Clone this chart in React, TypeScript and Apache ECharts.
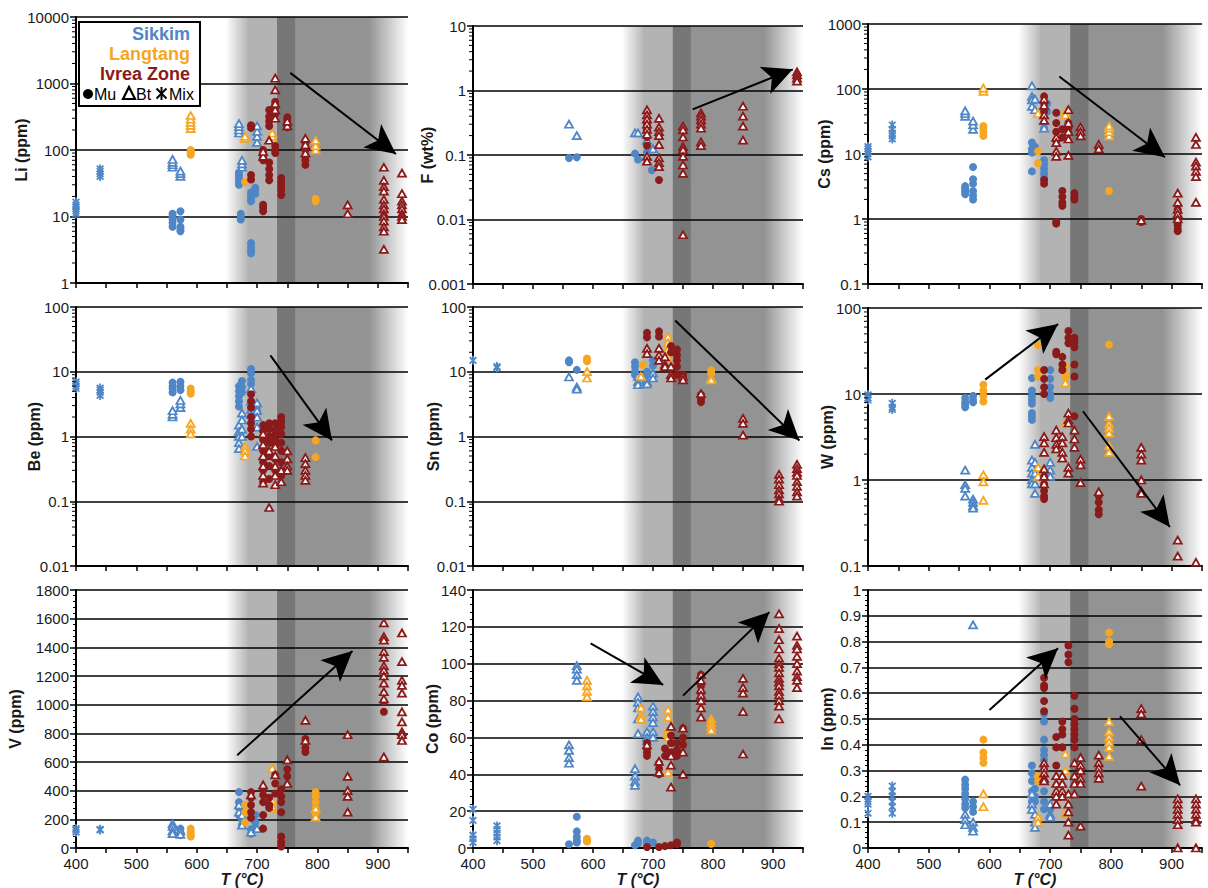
import React, { useEffect, useRef } from 'react';
import * as echarts from 'echarts';

const SIK = '#4f86c6';
const LAN = '#f5a623';
const IVR = '#8b1a1a';

// ---------- Li (ppm) ----------
const liSikMix = [[400,11],[400,12],[400,13],[400,14],[400,15],[400,16.5],[440,40],[440,44],[440,48],[440,52]];
const liSikMu = [[560,7],[560,8],[560,9],[560,10],[560,11],[573,6],[573,6.5],[573,7],[573,9],[573,12],[670,30],[670,34],[670,38],[670,42],[670,46],[673,9],[673,10],[673,11],[690,2.8],[690,3.1],[690,3.5],[690,4],[690,17],[690,19],[690,21],[690,23],[697,22],[697,25],[697,27]];
const liSikBt = [[560,55],[560,60],[560,65],[560,72],[573,40],[573,44],[573,48],[670,180],[670,200],[670,225],[670,250],[675,55],[675,62],[675,70],[700,130],[700,160],[700,190],[700,230]];
const liLanMu = [[590,85],[590,90],[590,95],[590,100],[680,33],[797,17],[797,18.5]];
const liLanBt = [[590,210],[590,235],[590,260],[590,290],[590,330],[680,150],[680,160],[725,140],[725,160],[725,180],[797,100],[797,115],[797,140]];
const liIvrMu = [[690,215],[690,235],[690,36],[690,42],[710,70],[710,80],[710,90],[710,100],[710,12],[710,13.5],[710,15],[720,35],[720,42],[720,52],[720,65],[720,230],[720,270],[720,320],[720,400],[730,350],[730,420],[730,480],[730,530],[730,90],[730,100],[730,115],[740,21],[740,25],[740,29],[740,33],[740,38],[750,220],[750,250],[750,280],[750,310],[780,60],[780,70],[780,82],[780,100],[780,125]];
const liIvrBt = [[720,140],[730,1200],[730,800],[730,300],[730,400],[730,500],[710,80],[710,95],[750,230],[750,270],[780,90],[780,120],[780,150],[850,15],[850,11],[910,55],[910,35],[910,28],[910,24],[910,18],[910,15],[910,13],[910,11],[910,10],[910,8.5],[910,7],[910,6],[910,3.2],[940,45],[940,22],[940,17],[940,15],[940,13],[940,11],[940,10],[940,9]];

// ---------- F (wt%) ----------
const fSikMix: number[][] = [];
const fSikMu = [[560,0.09],[573,0.092],[670,0.105],[675,0.085],[690,0.11],[698,0.058]];
const fSikBt = [[560,0.3],[573,0.2],[670,0.22],[675,0.22],[690,0.17],[700,0.125]];
const fLanMu: number[][] = [];
const fLanBt: number[][] = [];
const fIvrMu = [[690,0.19],[690,0.14],[690,0.3],[690,0.25],[710,0.041],[710,0.2],[750,0.12],[750,0.11],[780,0.35],[780,0.3],[940,1.5],[940,1.6],[940,1.7]];
const fIvrBt = [[690,0.5],[690,0.42],[690,0.36],[690,0.3],[690,0.25],[690,0.21],[690,0.095],[690,0.08],[710,0.37],[710,0.27],[710,0.23],[710,0.2],[710,0.145],[710,0.09],[710,0.076],[710,0.066],[750,0.28],[750,0.245],[750,0.19],[750,0.135],[750,0.12],[750,0.095],[750,0.07],[750,0.052],[750,0.0058],[780,0.45],[780,0.4],[780,0.35],[780,0.3],[780,0.26],[780,0.16],[780,0.14],[850,0.57],[850,0.4],[850,0.28],[850,0.17],[940,1.95],[940,1.75],[940,1.55],[940,1.4]];

// ---------- Cs (ppm) ----------
const csSikMix = [[400,9],[400,10],[400,11],[400,12],[400,13],[440,17],[440,19],[440,21],[440,24],[440,28]];
const csSikMu = [[560,2.4],[560,2.6],[560,2.8],[560,3],[560,3.2],[573,2],[573,2.3],[573,2.7],[573,3.5],[573,4.1],[573,6.3],[670,15],[670,12],[670,10.5],[670,5.4],[675,13],[675,11],[690,8],[690,7],[690,6],[690,5],[690,4.3],[690,25],[690,50],[695,45],[695,60]];
const csSikBt = [[560,38],[560,42],[560,46],[573,24],[573,28],[573,32],[670,112],[670,77],[670,68],[670,54],[675,48],[675,70],[690,25],[690,33]];
const csLanMu = [[590,19],[590,22],[590,25],[590,27],[680,11],[680,7.2],[797,2.7]];
const csLanBt = [[590,92],[590,103],[680,42],[725,45],[725,40],[797,19],[797,22],[797,25],[797,27]];
const csIvrMu = [[690,77],[690,60],[690,45],[690,4],[690,3.5],[710,43],[710,30],[710,22],[710,16],[710,0.9],[710,0.85],[720,24],[720,18],[720,2.7],[720,2.2],[720,1.8],[720,1.6],[730,30],[730,25],[730,21],[740,2.5],[740,2.2],[740,2],[780,12],[850,1],[850,0.9],[910,1.4],[910,1.1],[910,0.9],[910,0.8],[910,0.7],[910,0.65]];
const csIvrBt = [[690,70],[690,56],[690,40],[690,33],[710,18],[710,15],[710,11],[710,9.2],[730,48],[730,30],[730,22],[730,17],[730,9.5],[750,26],[750,22],[750,19],[780,14],[780,12],[850,0.95],[910,2.5],[910,1.8],[910,1.4],[910,1.2],[910,1],[940,18],[940,14],[940,7.5],[940,6.5],[940,5.4],[940,4.5],[940,1.8]];

// ---------- Be (ppm) ----------
const beSikMix = [[400,5.5],[400,6],[400,6.5],[400,7],[440,4.3],[440,4.8],[440,5.2],[440,5.6]];
const beSikMu = [[560,4.8],[560,5.5],[560,6],[560,6.8],[573,5.2],[573,6],[573,7],[670,2.9],[670,3.5],[670,4.2],[670,5],[670,6],[675,4.8],[675,5.8],[675,7.2],[690,6.5],[690,7.5],[690,9.5],[690,11],[700,3],[700,2.5]];
const beSikBt = [[560,2],[560,2.2],[560,2.5],[573,2.8],[573,3.2],[573,3.6],[670,1.5],[670,1.2],[670,1],[670,0.8],[670,0.65],[675,2.3],[675,1.8],[675,1.3],[675,1],[690,5.5],[690,3.5],[690,2.6],[690,2.2],[700,3.3],[700,2.5],[700,2],[700,1.4],[700,0.7]];
const beLanMu = [[590,5.5],[590,5],[590,4.6],[797,0.87],[797,0.48]];
const beLanBt = [[590,1.6],[590,1.3],[590,1.1],[680,0.7],[680,0.6],[680,0.5]];
const beIvrMu = [[690,4.5],[690,3.5],[690,2.8],[690,2],[690,1.6],[690,1.3],[690,1],[710,1.5],[710,1.2],[710,0.9],[710,0.6],[710,0.4],[710,0.3],[710,0.2],[720,1.6],[720,1.3],[720,1],[720,0.8],[720,0.5],[720,0.35],[720,0.22],[730,1.6],[730,1.3],[730,1.1],[730,0.9],[730,0.7],[730,0.45],[730,0.3],[740,2],[740,1.7],[740,1.4],[740,1.1],[740,0.8],[740,0.6],[740,0.4],[740,0.25]];
const beIvrBt = [[710,1.1],[710,0.75],[710,0.5],[710,0.35],[710,0.25],[710,0.19],[720,0.08],[720,0.6],[730,0.7],[730,0.5],[730,0.35],[730,0.25],[730,0.18],[740,0.3],[740,0.2],[750,0.6],[750,0.45],[750,0.35],[750,0.3],[780,0.47],[780,0.38],[780,0.3],[780,0.25],[780,0.21]];

// ---------- Sn (ppm) ----------
const snSikMix = [[400,15],[440,12],[440,11.5]];
const snSikMu = [[560,15],[560,14],[573,10.7],[670,14],[670,12],[670,10],[670,9],[690,10],[690,9],[700,15],[700,12.5]];
const snSikBt = [[560,8.3],[573,5.8],[573,5.4],[675,8.5],[675,7],[675,6.3],[685,6.5],[690,7],[690,6.5],[700,9.5],[700,8]];
const snLanMu = [[590,16],[590,14.5],[683,12.8],[797,10.5],[797,9.5]];
const snLanBt = [[590,10],[590,8],[680,8.5],[725,35],[725,28],[725,22],[725,17],[797,8],[797,7.5]];
const snIvrMu = [[690,40],[690,34],[710,42],[710,35],[730,25],[730,20],[740,22],[740,18],[740,15],[740,12],[740,9],[750,9],[750,8],[780,4.4],[780,3.8],[780,3.4]];
const snIvrBt = [[690,23],[690,19],[710,23],[710,18],[710,15],[720,17],[720,13],[720,12],[730,12],[730,9],[730,8],[750,8.5],[750,7.5],[780,4.6],[850,1.9],[850,1.6],[850,1.05],[910,0.26],[910,0.22],[910,0.18],[910,0.15],[910,0.13],[910,0.11],[910,0.1],[940,0.37],[940,0.32],[940,0.28],[940,0.25],[940,0.2],[940,0.17],[940,0.14],[940,0.12]];

// ---------- W (ppm) ----------
const wSikMix = [[400,9.8],[400,9],[400,8.5],[440,7.8],[440,7],[440,6.6]];
const wSikMu = [[560,9],[560,8],[560,7.5],[560,7],[573,9.5],[573,8.5],[573,8],[670,15.3],[670,11],[670,9.5],[670,8.5],[670,7.7],[670,6],[670,5.5],[670,5],[700,19],[700,15],[700,12],[700,10],[700,9]];
const wSikBt = [[560,1.3],[560,0.88],[560,0.8],[560,0.65],[573,0.6],[573,0.55],[573,0.5],[573,0.47],[670,1.7],[670,1.4],[670,1.2],[670,1],[670,0.9],[675,2.6],[675,1.6],[675,1.2],[675,0.9],[675,0.7],[700,1.6],[700,1.3],[700,1.1]];
const wLanMu = [[590,12.8],[590,11],[590,9.5],[590,8.2],[680,37],[680,19],[680,16],[725,21],[725,17],[725,16],[797,37.5]];
const wLanBt = [[590,1.15],[590,0.95],[590,0.58],[680,1.4],[680,1.1],[725,13.5],[725,4.6],[797,5.5],[797,4.5],[797,4],[797,3.5],[797,2.5],[797,2.1]];
const wIvrMu = [[690,19],[690,15],[690,12],[690,10],[690,1.1],[690,0.9],[690,0.75],[690,0.65],[690,0.6],[710,31],[710,29],[720,27],[720,22],[720,19],[730,54],[730,45],[730,39],[740,45],[740,40],[740,35],[740,22],[740,16],[740,5.5],[780,0.65],[780,0.55],[780,0.45],[780,0.4]];
const wIvrBt = [[690,3.2],[690,2.7],[690,2.1],[690,1.35],[690,1.1],[690,0.9],[710,3.8],[710,3.1],[710,2.6],[710,2.3],[720,3.2],[720,2.7],[720,2.1],[720,1.8],[730,6],[730,5],[730,4.6],[730,1.4],[730,1.2],[740,3.8],[740,3],[740,2.4],[750,1.75],[750,1.5],[750,0.93],[780,0.73],[850,2.4],[850,2],[850,1.7],[850,1],[850,0.74],[850,0.7],[910,0.2],[910,0.13],[940,0.11]];

// ---------- V (ppm) ----------
const vSikMix = [[400,110],[400,125],[400,135],[440,125],[440,130]];
const vSikMu = [[573,135],[573,110],[573,90],[670,390],[670,320],[670,280],[670,230],[675,270],[675,200],[675,160],[690,130],[690,100],[697,230],[697,180],[697,140]];
const vSikBt = [[560,170],[560,150],[560,120],[560,100],[573,120],[573,95],[670,300],[670,250],[675,230],[675,160],[690,110],[700,135]];
const vLanMu = [[590,135],[590,110],[590,90],[590,80],[680,300],[680,250],[680,180],[725,270],[797,390],[797,360],[797,320],[797,280],[797,240]];
const vLanBt = [[725,555],[725,330],[725,290],[797,215],[797,275]];
const vIvrMu = [[690,390],[690,350],[690,300],[690,250],[690,210],[710,410],[710,370],[710,320],[710,230],[710,135],[720,350],[720,300],[720,280],[730,510],[730,450],[730,380],[740,410],[740,360],[740,320],[740,250],[740,80],[740,40],[740,10],[750,550],[750,500],[780,760],[780,700],[780,670],[910,1020],[910,950]];
const vIvrBt = [[690,370],[710,440],[730,510],[750,615],[750,450],[780,890],[780,750],[850,790],[850,500],[850,400],[850,360],[850,250],[910,1570],[910,1475],[910,1450],[910,1370],[910,1330],[910,1270],[910,1240],[910,1200],[910,1150],[910,1090],[910,1040],[910,635],[940,1500],[940,1300],[940,1170],[940,1135],[940,1080],[940,950],[940,880],[940,810],[940,790],[940,750]];

// ---------- Co (ppm) ----------
const coSikMix = [[400,21],[400,15],[400,7],[400,5],[400,3],[440,12],[440,10],[440,8],[440,6],[440,4]];
const coSikMu = [[560,2],[573,17],[573,9],[573,6],[573,4],[573,3],[670,1.5],[675,4],[675,2.5],[690,4],[690,3],[700,3]];
const coSikBt = [[560,56],[560,53],[560,49],[560,46],[573,99],[573,97],[573,94],[573,91],[670,43],[670,39],[670,36],[670,34],[675,82],[675,79],[675,76],[675,70],[675,62],[690,63],[690,60],[690,58],[700,77],[700,74],[700,71],[700,68],[700,63],[700,60]];
const coLanMu = [[590,5],[590,4],[590,3.5],[797,2.3]];
const coLanBt = [[590,91],[590,88],[590,85],[590,82],[680,76],[680,72],[680,70],[725,75],[725,71],[725,64],[725,62],[725,60],[725,41],[797,70],[797,68],[797,66],[797,64]];
const coIvrMu = [[690,57],[690,54],[690,52],[690,50],[690,0.5],[710,46],[710,43],[710,40],[710,0.5],[720,54],[720,50],[720,1],[730,61],[730,57],[730,52],[730,1.5],[740,57],[740,53],[740,50],[740,3],[740,2],[750,65],[750,60],[750,56],[780,94],[780,88],[780,84],[780,80]];
const coIvrBt = [[690,56],[710,47],[710,41],[730,66],[730,50],[730,45],[730,33],[750,65],[750,52],[750,40],[780,94],[780,91],[780,86],[780,83],[780,80],[780,76],[780,71],[850,92],[850,87],[850,84],[850,74],[850,51],[910,127],[910,119],[910,113],[910,108],[910,103],[910,100],[910,98],[910,95],[910,92],[910,90],[910,88],[910,85],[910,83],[910,80],[910,77],[910,70],[940,115],[940,110],[940,108],[940,104],[940,100],[940,96],[940,93],[940,91],[940,87]];

// ---------- In (ppm) ----------
const inSikMix = [[400,0.2],[400,0.18],[400,0.17],[400,0.135],[440,0.24],[440,0.22],[440,0.2],[440,0.18],[440,0.16],[440,0.135]];
const inSikMu = [[560,0.265],[560,0.245],[560,0.23],[560,0.21],[560,0.19],[560,0.17],[560,0.155],[573,0.18],[573,0.16],[573,0.14],[670,0.32],[670,0.29],[670,0.26],[670,0.22],[670,0.18],[675,0.23],[675,0.2],[675,0.18],[690,0.52],[690,0.49],[690,0.42],[690,0.38],[690,0.36],[690,0.34],[690,0.31],[690,0.28],[690,0.26],[690,0.22],[690,0.18],[690,0.15],[700,0.15],[700,0.12]];
const inSikBt = [[560,0.13],[560,0.11],[560,0.09],[573,0.865],[573,0.1],[573,0.08],[573,0.065],[670,0.21],[670,0.17],[670,0.15],[675,0.13],[675,0.1],[675,0.08],[700,0.17],[700,0.13],[700,0.12]];
const inLanMu = [[590,0.42],[590,0.37],[590,0.35],[590,0.33],[680,0.28],[680,0.26],[797,0.835],[797,0.8],[797,0.79]];
const inLanBt = [[590,0.21],[590,0.16],[680,0.12],[680,0.1],[725,0.365],[725,0.3],[725,0.135],[797,0.49],[797,0.45],[797,0.43],[797,0.41],[797,0.39],[797,0.355]];
const inIvrMu = [[730,0.785],[730,0.75],[730,0.72],[690,0.66],[690,0.63],[690,0.62],[690,0.57],[690,0.53],[710,0.43],[710,0.39],[710,0.32],[720,0.49],[720,0.46],[720,0.44],[720,0.39],[740,0.59],[740,0.54],[740,0.5],[740,0.48],[740,0.46],[740,0.44],[740,0.42],[740,0.39]];
const inIvrBt = [[690,0.33],[690,0.31],[690,0.29],[690,0.27],[690,0.26],[710,0.28],[710,0.25],[710,0.22],[710,0.2],[710,0.17],[720,0.28],[720,0.25],[720,0.22],[720,0.2],[730,0.21],[730,0.17],[730,0.14],[730,0.1],[730,0.05],[740,0.33],[740,0.28],[740,0.25],[740,0.21],[750,0.35],[750,0.32],[750,0.3],[750,0.27],[750,0.25],[750,0.085],[780,0.36],[780,0.33],[780,0.31],[780,0.29],[780,0.27],[850,0.54],[850,0.52],[850,0.42],[850,0.24],[910,0.19],[910,0.17],[910,0.15],[910,0.13],[910,0.11],[910,0.09],[910,0],[940,0.19],[940,0.17],[940,0.15],[940,0.13],[940,0.11],[940,0.1],[940,0]];

// ---------- trend arrows [x1, y1, x2, y2] ----------
const liArrows = [[755,1445,930,87]];
const fArrows = [[766,0.51,933,2.13]];
const csArrows = [[715,156,889,8.9]];
const beArrows = [[722,17.9,824,0.87]];
const snArrows = [[737,62,944,0.87]];
const wArrows = [[593,14.7,713,65],[754,6.3,897,0.284]];
const vArrows = [[667,647,858,1374]];
const coArrows = [[596,111,717,88.5],[750,82.7,894,128]];
const inArrows = [[600,0.535,713,0.774],[815,0.51,914,0.243]];

// temperature bands (°C)
const bandEdges = [648, 684, 733, 763, 885, 950];

const X_MIN = 400;
const X_MAX = 950;

function starPath() {
  const L = 5, W = 0.95;
  const parts: string[] = [];
  [90, 45, 135].forEach((deg) => {
    const t = (deg * Math.PI) / 180;
    const dx = Math.cos(t), dy = Math.sin(t);
    const nx = -dy, ny = dx;
    const pts = [
      [L * dx + W * nx, L * dy + W * ny],
      [L * dx - W * nx, L * dy - W * ny],
      [-L * dx - W * nx, -L * dy - W * ny],
      [-L * dx + W * nx, -L * dy + W * ny],
    ];
    parts.push('M' + pts.map((p) => p[0].toFixed(3) + ',' + p[1].toFixed(3)).join(' L') + ' Z');
  });
  return 'path://' + parts.join(' ');
}
const STAR = starPath();

const GROUPS = [
  { color: SIK, mk: 'mix' },
  { color: SIK, mk: 'mu' },
  { color: SIK, mk: 'bt' },
  { color: LAN, mk: 'mu' },
  { color: LAN, mk: 'bt' },
  { color: IVR, mk: 'mu' },
  { color: IVR, mk: 'bt' },
];

const PANELS = [
  { name: 'Li (ppm)', log: true, min: 1, max: 10000, left: 76, top: 17, width: 332, height: 266, gap: 47, bottom: false, arrows: liArrows, data: [liSikMix, liSikMu, liSikBt, liLanMu, liLanBt, liIvrMu, liIvrBt] },
  { name: 'F (wt%)', log: true, min: 0.001, max: 10, left: 473, top: 26, width: 330, height: 258, gap: 38, bottom: false, arrows: fArrows, data: [fSikMix, fSikMu, fSikBt, fLanMu, fLanBt, fIvrMu, fIvrBt] },
  { name: 'Cs (ppm)', log: true, min: 0.1, max: 1000, left: 868, top: 24, width: 334, height: 260, gap: 36, bottom: false, arrows: csArrows, data: [csSikMix, csSikMu, csSikBt, csLanMu, csLanBt, csIvrMu, csIvrBt] },
  { name: 'Be (ppm)', log: true, min: 0.01, max: 100, left: 76, top: 307, width: 332, height: 259, gap: 34, bottom: false, arrows: beArrows, data: [beSikMix, beSikMu, beSikBt, beLanMu, beLanBt, beIvrMu, beIvrBt] },
  { name: 'Sn (ppm)', log: true, min: 0.01, max: 100, left: 473, top: 307, width: 330, height: 259, gap: 32, bottom: false, arrows: snArrows, data: [snSikMix, snSikMu, snSikBt, snLanMu, snLanBt, snIvrMu, snIvrBt] },
  { name: 'W (ppm)', log: true, min: 0.1, max: 100, left: 868, top: 308, width: 334, height: 258, gap: 33, bottom: false, arrows: wArrows, data: [wSikMix, wSikMu, wSikBt, wLanMu, wLanBt, wIvrMu, wIvrBt] },
  { name: 'V (ppm)', log: false, min: 0, max: 1800, interval: 200, left: 76, top: 590, width: 332, height: 258, gap: 53, bottom: true, arrows: vArrows, data: [vSikMix, vSikMu, vSikBt, vLanMu, vLanBt, vIvrMu, vIvrBt] },
  { name: 'Co (ppm)', log: false, min: 0, max: 140, interval: 20, left: 473, top: 590, width: 330, height: 258, gap: 33, bottom: true, arrows: coArrows, data: [coSikMix, coSikMu, coSikBt, coLanMu, coLanBt, coIvrMu, coIvrBt] },
  { name: 'In (ppm)', log: false, min: 0, max: 1, interval: 0.1, left: 868, top: 590, width: 334, height: 258, gap: 33, bottom: true, arrows: inArrows, data: [inSikMix, inSikMu, inSikBt, inLanMu, inLanBt, inIvrMu, inIvrBt] },
];

const FONT = '"Liberation Sans", Arial, Helvetica, sans-serif';
const LIGHT = '#b3b3b3';
const DARK = '#777777';
const MID = '#939393';

function grad(a: string, b: string) {
  return { type: 'linear', x: 0, y: 0, x2: 1, y2: 0, colorStops: [{ offset: 0, color: a }, { offset: 1, color: b }] };
}

function fmt(v: number) {
  return String(Number(Number(v).toPrecision(6)));
}

function logMinors(min: number, max: number) {
  const out: number[] = [];
  for (let k = Math.round(Math.log10(min)); k < Math.round(Math.log10(max)); k++) {
    for (let m = 2; m <= 9; m++) out.push(Number((m * Math.pow(10, k)).toPrecision(6)));
  }
  return out;
}

function buildOption() {
  const grid: any[] = [];
  const xAxis: any[] = [];
  const yAxis: any[] = [];
  const series: any[] = [];
  const colors = [grad('#ffffff', LIGHT), LIGHT, DARK, MID, grad(MID, '#ffffff')];
  // bands overlap slightly so no anti-aliasing seams show between them
  const shade = colors.map((c, i) => [
    { xAxis: bandEdges[i], itemStyle: { color: c } },
    { xAxis: i < colors.length - 1 ? bandEdges[i + 1] + 2 : bandEdges[i + 1] },
  ]);

  PANELS.forEach((p, i) => {
    grid.push({ left: p.left, top: p.top, width: p.width, height: p.height, containLabel: false });
    xAxis.push({
      type: 'value', gridIndex: i, min: X_MIN, max: X_MAX, interval: 50,
      axisLine: { show: true, onZero: false, lineStyle: { color: '#000', width: 2 } },
      axisTick: { show: true, length: 5, lineStyle: { color: '#000', width: 1.5 } },
      splitLine: { show: false },
      axisLabel: {
        show: p.bottom, interval: 0, margin: 8, fontSize: 15, color: '#1a1a1a', fontFamily: FONT,
        formatter: (v: number) => (Math.round(v) % 100 === 0 ? String(Math.round(v)) : ''),
      },
      name: p.bottom ? 'T (°C)' : '',
      nameLocation: 'middle', nameGap: 23, nameMoveOverlap: false,
      nameTextStyle: { fontSize: 16, fontWeight: 'bold', fontStyle: 'italic', color: '#1a1a1a', fontFamily: FONT },
    });
    const y: any = {
      gridIndex: i, min: p.min, max: p.max,
      axisLine: { show: true, onZero: false, lineStyle: { color: '#000', width: 2 } },
      axisTick: { show: true, length: 6, lineStyle: { color: '#000', width: 1.5 } },
      splitLine: { show: true, lineStyle: { color: '#000', width: 1.5 } },
      axisLabel: { fontSize: 15, color: '#1a1a1a', margin: 7, fontFamily: FONT, formatter: (v: number) => fmt(v) },
      name: p.name, nameLocation: 'middle', nameRotate: 90, nameGap: p.gap, nameMoveOverlap: false,
      nameTextStyle: { fontSize: 16, fontWeight: 'bold', color: '#1a1a1a', fontFamily: FONT },
    };
    if (p.log) {
      y.type = 'log';
      y.logBase = 10;
    } else {
      y.type = 'value';
      y.interval = p.interval;
      y.minorTick = { show: true, splitNumber: 5, length: 3, lineStyle: { color: '#000', width: 1 } };
    }
    yAxis.push(y);

    // shaded temperature bands (below grid lines)
    series.push({
      type: 'scatter', xAxisIndex: i, yAxisIndex: i, data: [], z: -1, silent: true,
      markArea: { silent: true, z: -1, itemStyle: { borderWidth: 0 }, data: shade },
    });

    p.data.forEach((d, gi) => {
      const g = GROUPS[gi];
      const s: any = {
        type: 'scatter', xAxisIndex: i, yAxisIndex: i, data: d, z: 2, silent: true,
        emphasis: { disabled: true },
      };
      if (g.mk === 'mu') {
        s.symbol = 'circle'; s.symbolSize = 8; s.itemStyle = { color: g.color, opacity: 1 };
      } else if (g.mk === 'bt') {
        s.symbol = 'triangle'; s.symbolSize = [8, 7];
        s.itemStyle = { color: '#ffffff', borderColor: g.color, borderWidth: 1.8, opacity: 1 };
      } else {
        s.symbol = STAR; s.symbolSize = [8, 9]; s.itemStyle = { color: g.color, opacity: 1 };
      }
      series.push(s);
    });

    if (p.log) {
      series.push({
        type: 'custom', xAxisIndex: i, yAxisIndex: i, silent: true, clip: false, z: 4,
        data: logMinors(p.min, p.max).map((v) => [X_MIN, v]),
        renderItem: (params: any, api: any) => {
          const pt = api.coord([api.value(0), api.value(1)]);
          return { type: 'line', shape: { x1: pt[0] - 4, y1: pt[1], x2: pt[0], y2: pt[1] }, style: { stroke: '#000', lineWidth: 1 } };
        },
      });
    }

    series.push({
      type: 'scatter', xAxisIndex: i, yAxisIndex: i, data: [], z: 5, silent: true,
      markLine: {
        silent: true, z: 5, symbol: ['none', 'arrow'], symbolSize: [22, 30],
        lineStyle: { color: '#000', width: 2, type: 'solid' },
        label: { show: false },
        emphasis: { disabled: true },
        data: p.arrows.map((a) => [{ coord: [a[0], a[1]] }, { coord: [a[2], a[3]] }]),
      },
    });
  });

  const graphic: any[] = [
    { type: 'rect', shape: { x: 79, y: 22, width: 121, height: 84 }, style: { fill: '#fff', stroke: '#000', lineWidth: 2 }, z: 20 },
    { type: 'text', x: 190, y: 34, style: { text: 'Sikkim', fill: SIK, font: 'bold 18px ' + FONT, textAlign: 'right', textVerticalAlign: 'middle' }, z: 21 },
    { type: 'text', x: 190, y: 54, style: { text: 'Langtang', fill: LAN, font: 'bold 18px ' + FONT, textAlign: 'right', textVerticalAlign: 'middle' }, z: 21 },
    { type: 'text', x: 190, y: 74, style: { text: 'Ivrea Zone', fill: IVR, font: 'bold 18px ' + FONT, textAlign: 'right', textVerticalAlign: 'middle' }, z: 21 },
    { type: 'circle', shape: { cx: 88, cy: 94, r: 5 }, style: { fill: '#000' }, z: 21 },
    { type: 'text', x: 94, y: 94, style: { text: 'Mu', fill: '#000', font: '16px ' + FONT, textAlign: 'left', textVerticalAlign: 'middle' }, z: 21 },
    { type: 'polygon', shape: { points: [[129, 87], [135, 99], [123, 99]] }, style: { fill: '#fff', stroke: '#000', lineWidth: 2.2 }, z: 21 },
    { type: 'text', x: 136, y: 94, style: { text: 'Bt', fill: '#000', font: '16px ' + FONT, textAlign: 'left', textVerticalAlign: 'middle' }, z: 21 },
    { type: 'line', shape: { x1: 161.5, y1: 87, x2: 161.5, y2: 100 }, style: { stroke: '#000', lineWidth: 2 }, z: 21 },
    { type: 'line', shape: { x1: 156.5, y1: 88.5, x2: 166.5, y2: 98.5 }, style: { stroke: '#000', lineWidth: 2 }, z: 21 },
    { type: 'line', shape: { x1: 166.5, y1: 88.5, x2: 156.5, y2: 98.5 }, style: { stroke: '#000', lineWidth: 2 }, z: 21 },
    { type: 'text', x: 169, y: 94, style: { text: 'Mix', fill: '#000', font: '16px ' + FONT, textAlign: 'left', textVerticalAlign: 'middle' }, z: 21 },
  ];

  return { animation: false, backgroundColor: '#ffffff', grid, xAxis, yAxis, series, graphic };
}

export default function App() {
  const ref = useRef<HTMLDivElement>(null);
  useEffect(() => {
    document.body.style.margin = '0';
    if (!ref.current) return;
    const chart = echarts.init(ref.current, null, { renderer: 'svg' });
    chart.setOption(buildOption() as any);
    return () => chart.dispose();
  }, []);
  return <div ref={ref} style={{ width: 1208, height: 888 }} />;
}
